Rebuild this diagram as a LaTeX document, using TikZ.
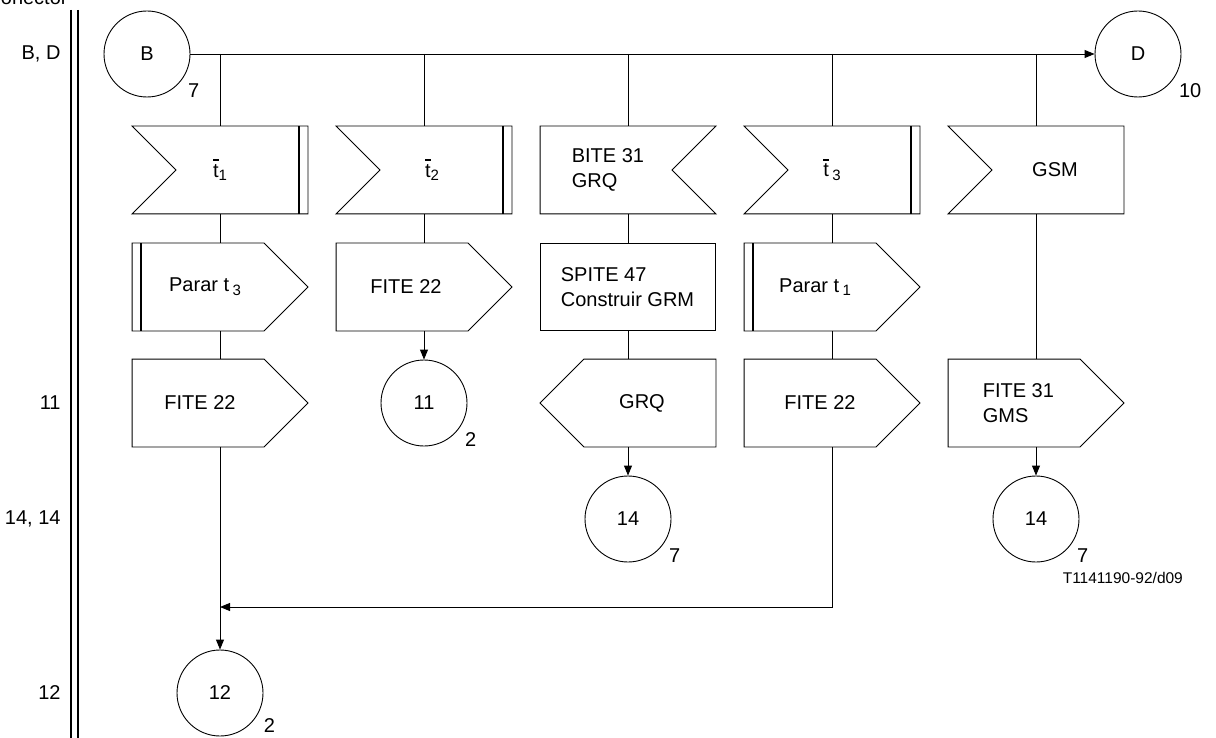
\documentclass[tikz,border=0pt]{standalone}
\usepackage{fontspec}
\setmainfont{Liberation Sans}
\usetikzlibrary{arrows.meta,positioning}

% timer name with bar, lowered index
\newcommand\tbar{\leavevmode\rlap{\raisebox{16pt}{\rule{6pt}{1.8pt}}}t}
\newcommand\sbs[1]{\raisebox{-0.35ex}{\fontsize{15}{15}\selectfont #1}}

% SDL outlines drawn round a box node
\newcommand\inshape[1]{\draw (#1.north west) -- (#1.north east) -- (#1.south east) -- (#1.south west) -- ([xshift=44pt]#1.west) -- cycle;}
\newcommand\inshapeR[1]{\draw (#1.north west) -- (#1.north east) -- ([xshift=-44pt]#1.east) -- (#1.south east) -- (#1.south west) -- cycle;}
\newcommand\outshape[1]{\draw (#1.north west) -- ([xshift=-44pt]#1.north east) -- (#1.east) -- ([xshift=-44pt]#1.south east) -- (#1.south west) -- cycle;}
\newcommand\outshapeL[1]{\draw ([xshift=44pt]#1.north west) -- (#1.north east) -- (#1.south east) -- ([xshift=44pt]#1.south west) -- (#1.west) -- cycle;}
\newcommand\barR[1]{\draw[line width=2.5pt] ([xshift=-9pt]#1.north east) -- ([xshift=-9pt]#1.south east);}
\newcommand\barL[1]{\draw[line width=2.5pt] ([xshift=9pt]#1.north west) -- ([xshift=9pt]#1.south west);}

\begin{document}
\begin{tikzpicture}[x=1pt, y=-1pt, line width=0.9pt,
    every node/.style={font=\fontsize{20}{25}\selectfont},
    box/.style={minimum width=175pt, minimum height=87pt, inner sep=0pt},
    conn/.style={circle, draw, minimum size=86pt, inner sep=0pt},
    num/.style={label distance=2pt},
    lbl/.style={anchor=east, inner sep=0pt},
    >={Triangle[length=10pt,width=8pt]}]
  \useasboundingbox (0,0) rectangle (1216,738);

  % reference column
  \node[anchor=base west, inner sep=0pt] (cap) at (-14,5) {Conector};
  \draw[line width=1.3pt] (71,10) -- (71,738);
  \draw[line width=1.3pt] (78,10) -- (78,738);
  \node[lbl] (rbd) at (61,54) {B, D};
  \node[lbl] (r11) at (61,403) {11};
  \node[lbl] (r14) at (61,519) {14, 14};
  \node[lbl] (r12) at (61,693) {12};

  \node[conn, label={[num]-35:7}] (b) at (147,54) {B};
  \node[conn, label={[num]-35:10}] (d) at (1138,54) {D};

  % inputs
  \node[box] (in1) at (220,170) {\tbar\sbs{1}};
  \node[box, label={[xshift=8pt]center:\tbar\sbs{2}}] (in2) at (424,170) {};
  \node[box, label={[anchor=west, align=left, xshift=28pt]west:BITE 31\\GRQ}] (in3) at (628,170) {};
  \node[box] (in4) at (832,170) {\tbar\,\sbs{3}};
  \node[box, label={[xshift=19pt]center:GSM}] (in5) at (1036,170) {};
  \inshape{in1} \barR{in1}
  \inshape{in2} \barR{in2}
  \inshapeR{in3}
  \inshape{in4} \barR{in4}
  \inshape{in5}

  % second row
  \node[box, label={[xshift=-15pt]center:Parar t\,\sbs{3}}] (sav1) at (220,287) {};
  \node[box, label={[xshift=-18pt]center:FITE 22}] (out2) at (424,287) {};
  \node[box, draw, label={[anchor=west, align=left, xshift=17pt]west:SPITE 47\\Construir GRM}] (task3) at (628,287) {};
  \node[box, label={[xshift=-17pt]center:Parar t\,\sbs{1}}] (sav4) at (832,287) {};
  \outshape{sav1} \barL{sav1}
  \outshape{out2}
  \outshape{sav4} \barL{sav4}

  % third row
  \node[box, label={[xshift=-20pt]center:FITE 22}] (out1) at (220,403) {};
  \node[conn, label={[num]-35:2}] (c11) at (424,403) {11};
  \node[box, label={[xshift=14pt]center:GRQ}] (out3) at (628,403) {};
  \node[box, label={[xshift=-12pt]center:FITE 22}] (out4) at (832,403) {};
  \node[box, label={[anchor=west, align=left, xshift=31pt]west:FITE 31\\GMS}] (out5) at (1036,403) {};
  \outshape{out1}
  \outshapeL{out3}
  \outshape{out4}
  \outshape{out5}

  \node[conn, label={[num]-35:7}] (c14a) at (628,519) {14};
  \node[conn, label={[num]-35:7}] (c14b) at (1036,519) {14};
  \node[conn, label={[num]-28:2}] (c12) at (220,693) {12};
  \node[anchor=west, font=\fontsize{15.5}{16}\selectfont] (fig) at (1059,578) {T1141190-92/d09};

  % flow lines
  \draw[->] (b) -- (d);
  \foreach \n in {in1,in2,in3,in4,in5}
    \draw (\n.north |- b) -- (\n.north);
  \draw (in1) -- (sav1) -- (out1);
  \draw (in2) -- (out2);
  \draw[->] (out2) -- (c11);
  \draw (in3) -- (task3) -- (out3);
  \draw[->] (out3) -- (c14a);
  \draw (in4) -- (sav4) -- (out4);
  \draw (in5) -- (out5);
  \draw[->] (out5) -- (c14b);
  \coordinate (mrg) at (220,607);
  \draw[->] (out4) |- (mrg);
  \draw[->] (out1) -- (c12);
\end{tikzpicture}
\end{document}
